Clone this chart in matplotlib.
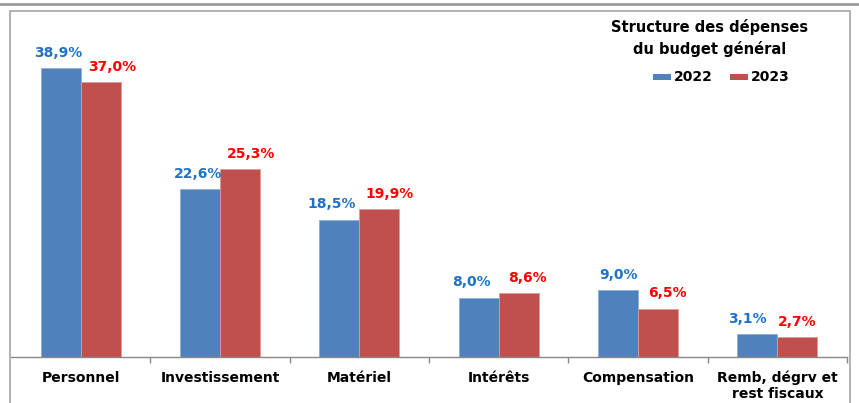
import matplotlib.pyplot as plt
from matplotlib.patches import Rectangle
from matplotlib.lines import Line2D

categories = ["Personnel", "Investissement", "Matériel", "Intérêts",
              "Compensation", "Remb, dégrv et\nrest fiscaux"]
vals_2022 = [38.9, 22.6, 18.5, 8.0, 9.0, 3.1]
vals_2023 = [37.0, 25.3, 19.9, 8.6, 6.5, 2.7]
years = ["2022", "2023"]

# horizontal nudges of the value labels (pixels), as placed in the original
nudge_2022 = [-2, -2, -8, -7, 0, -10]
nudge_2023 = [12, 11, 10, 9, 9, 0]

W, H = 859, 403
fig = plt.figure(figsize=(W / 100, H / 100), dpi=100)
plt.rcParams['font.family'] = ['DejaVu Sans']

# plot area in pixel coords
x0, x1, y_axis, y_top = 11, 847, 357, 11
ax = fig.add_axes([x0 / W, (H - y_axis) / H, (x1 - x0) / W, (y_axis - y_top) / H])

blue, red = "#4F81BD", "#C0504D"
bw = 0.287
xs = list(range(len(categories)))
b1 = ax.bar([x - bw / 2 for x in xs], vals_2022, bw, color=blue, edgecolor="#8FAFD8", linewidth=0.6, label=years[0])
b2 = ax.bar([x + bw / 2 for x in xs], vals_2023, bw, color=red, edgecolor="#E09A98", linewidth=0.6, label=years[1])

def fmt(v):
    return f"{v:.1f}".replace(".", ",") + "%"

for bars, vals, nudges, col in [(b1, vals_2022, nudge_2022, "#1F72C8"),
                                (b2, vals_2023, nudge_2023, "#FF0000")]:
    for rect, v, dx in zip(bars, vals, nudges):
        ax.annotate(fmt(v), (rect.get_x() + rect.get_width() / 2, v), xytext=(dx * 0.72, 6),
                    textcoords="offset points", ha="center", va="bottom",
                    color=col, fontsize=10, fontweight="bold")

ax.set_xlim(-0.5, len(categories) - 0.5)
ax.set_ylim(0, (y_axis - y_top) / 7.42)
ax.set_yticks([])
ax.set_xticks(xs)
ax.set_xticklabels(categories, fontsize=10, fontweight="bold", linespacing=1.15)
ax.tick_params(axis="x", which="major", length=0, pad=10)
ax.set_xticks([x + 0.5 for x in xs[:-1]] + [len(categories) - 0.5], minor=True)
ax.tick_params(axis="x", which="minor", length=4, color="#888888", width=1)
for s in ["top", "right", "left"]:
    ax.spines[s].set_visible(False)
ax.spines["bottom"].set_color("#888888")
ax.spines["bottom"].set_linewidth(1)

# title and legend
fig.text(710 / W, 1 - 38 / H, "Structure des dépenses\ndu budget général",
         ha="center", va="center", fontsize=10.5, fontweight="bold", linespacing=1.4)
for i, (col, yr) in enumerate([(blue, years[0]), (red, years[1])]):
    lx = 653 + i * 77
    fig.add_artist(Rectangle((lx / W, 1 - 80 / H), 18 / W, 6 / H, transform=fig.transFigure,
                             facecolor=col, edgecolor="none"))
    fig.text((lx + 21) / W, 1 - 77 / H, yr, ha="left", va="center",
             fontsize=10, fontweight="bold")

# chart frame and top rule
fig.add_artist(Rectangle((10 / W, -0.05), 840 / W, 1.05 - 11 / H, transform=fig.transFigure,
                         facecolor="none", edgecolor="#A6A6A6", linewidth=1.2))
fig.add_artist(Line2D([0, 1], [1 - 3.5 / H, 1 - 3.5 / H], transform=fig.transFigure,
                      color="#9A9A9A", linewidth=2))

fig.savefig("out.png", dpi=100)
